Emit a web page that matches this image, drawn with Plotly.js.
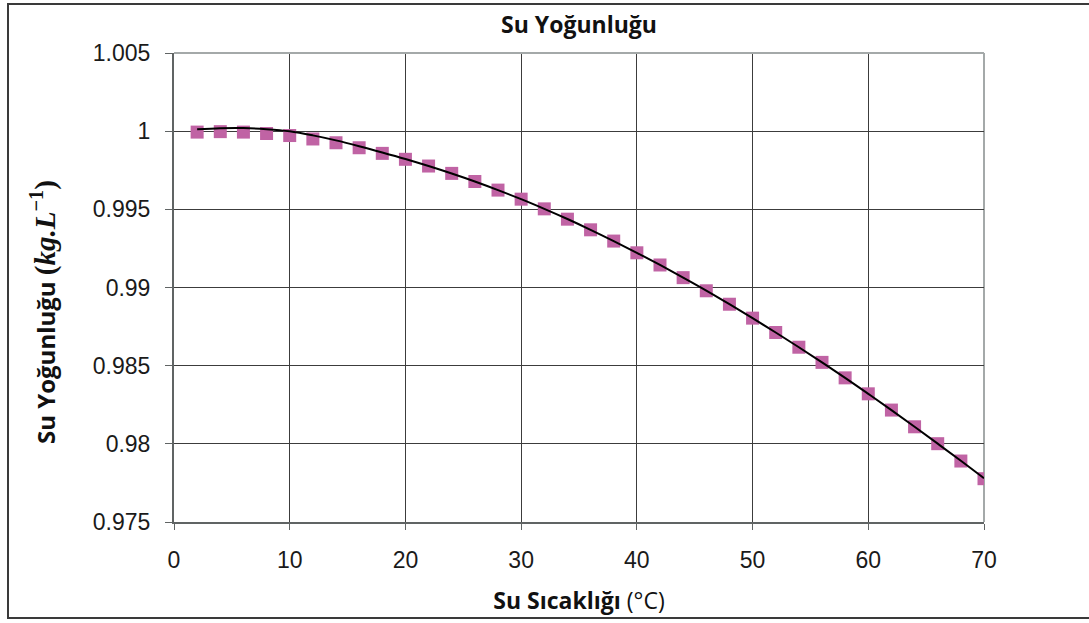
<!DOCTYPE html>
<html>
<head>
<meta charset="utf-8">
<script src="https://cdn.plot.ly/plotly-3.0.1.min.js"></script>
<style>
html,body{margin:0;padding:0;background:#fff;overflow:hidden;}
#frame{position:absolute;left:7px;top:3px;width:1100px;height:616px;border-left:2px solid #3a3a3a;border-top:2px solid #3a3a3a;border-bottom:2px solid #3a3a3a;box-sizing:border-box;pointer-events:none;z-index:5;}
#chart{position:absolute;left:0;top:0;width:1089px;height:623px;}
</style>
</head>
<body>
<div id="chart"></div>
<div id="frame"></div>
<script>
// Water temperature (°C)
const temperature = [2,4,6,8,10,12,14,16,18,20,22,24,26,28,30,32,34,36,38,40,42,44,46,48,50,52,54,56,58,60,62,64,66,68,70];
// Measured density (kg/L)
const density = [0.99994,0.99997,0.99994,0.99985,0.99972,0.99950,0.99926,0.99894,0.99858,0.99820,0.99777,0.99730,0.99678,0.99623,0.99565,0.99503,0.99437,0.99369,0.99297,0.99222,0.99144,0.99063,0.98979,0.98893,0.98804,0.98712,0.98618,0.98521,0.98422,0.98320,0.98216,0.98109,0.98001,0.97890,0.97777];
// Trend line values
const trend = [1.00012,1.00019,1.00020,1.00013,0.99999,0.99973,0.99941,0.99904,0.99864,0.99822,0.99777,0.99729,0.99678,0.99623,0.99565,0.99503,0.99438,0.99369,0.99297,0.99222,0.99144,0.99063,0.98980,0.98893,0.98804,0.98712,0.98618,0.98521,0.98422,0.98320,0.98216,0.98109,0.98001,0.97892,0.97780];
const xTicks = [0,10,20,30,40,50,60,70];
const yTicks = [0.975,0.98,0.985,0.99,0.995,1,1.005];
const yTickText = ['0.975','0.98','0.985','0.99','0.995','1','1.005'];

const traces = [
  {x: temperature, y: density, type: 'scatter', mode: 'markers',
   marker: {symbol: 'square', size: 13, color: '#c063a4'}, hoverinfo: 'x+y'},
  {x: temperature, y: trend, type: 'scatter', mode: 'lines',
   line: {color: '#000000', width: 2, shape: 'spline', smoothing: 1}, hoverinfo: 'skip'}
];

const tickFont = {family: 'Liberation Sans, Arial, sans-serif', size: 23, color: '#1a1a1a'};
const titleFont = {family: 'Open Sans, sans-serif', size: 23, color: '#111'};
const layout = {
  width: 1089, height: 623,
  margin: {l: 174, r: 105, t: 53, b: 101},
  paper_bgcolor: '#ffffff', plot_bgcolor: '#ffffff',
  showlegend: false,
  title: {text: '<b>Su Yoğunluğu</b>', font: titleFont,
          x: 0.5, xref: 'paper', xanchor: 'center', y: 1 - 25/623, yref: 'container', yanchor: 'middle'},
  xaxis: {range: [0, 70], tickvals: xTicks, ticktext: xTicks.map(String),
          showgrid: true, gridcolor: '#3c3c3c', gridwidth: 1,
          showline: true, linecolor: '#606464', linewidth: 2, mirror: false,
          ticks: 'outside', ticklen: 6, tickwidth: 1, tickcolor: '#606464',
          ticklabelstandoff: 10, tickfont: tickFont, zeroline: false,
          title: {text: '<b>Su Sıcaklığı</b> (°C)', font: titleFont, standoff: 21}},
  yaxis: {range: [0.975, 1.005], tickvals: yTicks, ticktext: yTickText,
          showgrid: true, gridcolor: '#3c3c3c', gridwidth: 1,
          showline: true, linecolor: '#606464', linewidth: 2, mirror: false,
          ticks: 'outside', ticklen: 7, tickwidth: 1, tickcolor: '#606464',
          ticklabelstandoff: 10, tickfont: tickFont, zeroline: false},
  shapes: [
    {type: 'line', xref: 'paper', yref: 'paper', x0: 0, x1: 1, y0: 1, y1: 1, line: {color: '#a4a9a9', width: 2}, layer: 'above'},
    {type: 'line', xref: 'paper', yref: 'paper', x0: 1, x1: 1, y0: 0, y1: 1, line: {color: '#a4a9a9', width: 2}, layer: 'below'}
  ],
  annotations: [
    {text: '<b>Su Yoğunluğu <span style="font-family:\'Liberation Serif\',serif;font-size:29px">(<i>kg.L</i><sup>−1</sup>)</span></b>', xref: 'paper', yref: 'paper',
     x: (43 - 174) / 810, y: (522 - 312) / 469, xanchor: 'center', yanchor: 'middle',
     textangle: -90, showarrow: false, font: {family: 'Open Sans, sans-serif', size: 24, color: '#111'}}
  ]
};

Plotly.newPlot('chart', traces, layout, {displayModeBar: false, staticPlot: true});
</script>
</body>
</html>
